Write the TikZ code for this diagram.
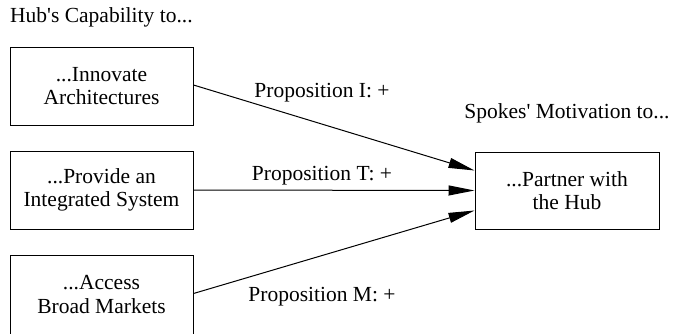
\documentclass[tikz,border=0pt]{standalone}
\usepackage{fontspec}
\setmainfont{Liberation Serif}
\usetikzlibrary{arrows.meta}
\begin{document}
\begin{tikzpicture}[x=1pt,y=1pt,
  every node/.style={font=\fontsize{21.5}{23.5}\selectfont},
  box/.style={draw,line width=1pt,minimum width=183pt,minimum height=78pt,align=center,inner sep=0pt},
  conn/.style={line width=1pt,-{Triangle[length=26pt,width=10pt]}},
  lbl/.style={inner sep=0pt}]
\useasboundingbox (0,0) rectangle (674,333);
\node[box] (b1) at (101.5,247) {...Innovate\\Architectures};
\node[box] (b2) at (101.5,143) {...Provide an\\Integrated System};
\node[box,minimum height=79pt] (b3) at (101.5,38.5) {...Access\\Broad Markets};
\node[box,minimum width=184pt,minimum height=77pt] (r) at (567,142.5) {...Partner with\\the Hub};
\node[lbl,anchor=west] (h) at (10,316) {Hub\textquotesingle s Capability to...};
\node[lbl] (s) at (567,220) {Spokes\textquotesingle\ Motivation to...};
\node[lbl] (pi) at (322,240) {Proposition I: +};
\node[lbl] (pt) at (322,157) {Proposition T: +};
\node[lbl] (pm) at (322,36) {Proposition M: +};
\coordinate (e1) at ([yshift=20pt]r.west);
\coordinate (e2) at ([yshift=0pt]r.west);
\coordinate (e3) at ([yshift=-20pt]r.west);
\coordinate (s1) at ([yshift=1pt]b1.east);
\coordinate (s3) at ([yshift=1pt]b3.east);
\draw[conn] (s1) -- (e1);
\draw[conn] (b2.east) -- (e2);
\draw[conn] (s3) -- (e3);
\end{tikzpicture}
\end{document}
